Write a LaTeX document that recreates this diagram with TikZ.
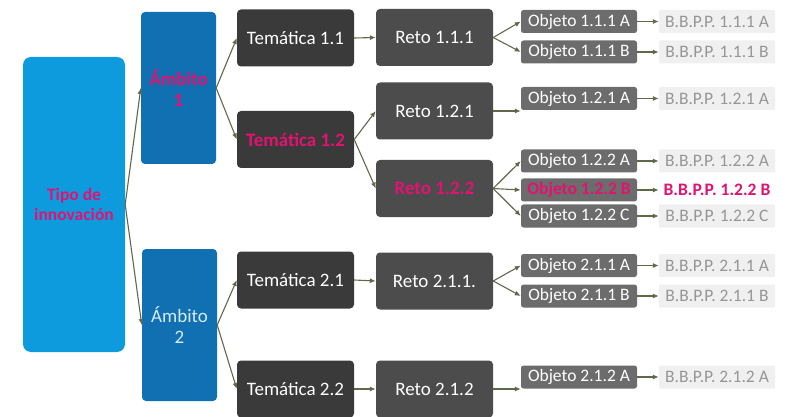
\documentclass[tikz,border=0pt]{standalone}
\usepackage{fontspec}
\setmainfont{Carlito}
\usetikzlibrary{arrows.meta}
\definecolor{tipoblue}{RGB}{14,155,222}
\definecolor{ambblue}{RGB}{16,112,178}
\definecolor{temgray}{RGB}{58,58,58}
\definecolor{retogray}{RGB}{76,76,76}
\definecolor{objgray}{RGB}{108,108,108}
\definecolor{bbppgray}{RGB}{240,240,240}
\definecolor{bbpptext}{RGB}{150,150,150}
\definecolor{hilite}{RGB}{226,18,114}
\definecolor{linkcol}{RGB}{96,104,74}
\begin{document}
\begin{tikzpicture}[x=1pt,y=-1pt,
  box/.style={rounded corners=4pt,align=center,inner sep=0pt,font=\fontsize{19}{21}\selectfont},
  tipo/.style={box,fill=tipoblue,minimum width=102pt,minimum height=295pt,rounded corners=8pt,font=\fontsize{17.5}{20}\selectfont},
  ambito/.style={box,fill=ambblue,minimum width=75pt,minimum height=152pt,text={rgb,255:red,215;green,235;blue,248}},
  tema/.style={box,fill=temgray,text=white,minimum width=117pt,minimum height=57pt},
  reto/.style={box,fill=retogray,text=white,minimum width=117pt,minimum height=57pt},
  objeto/.style={box,fill=objgray,text=white,minimum width=116pt,minimum height=23pt,rounded corners=2.5pt,font=\fontsize{17.5}{19}\selectfont},
  bbpp/.style={box,fill=bbppgray,text=bbpptext,minimum width=116pt,minimum height=23pt,rounded corners=1pt,font=\fontsize{17.5}{19}\selectfont},
  marked/.style={text=hilite,execute at begin node=\bfseries},
  link/.style={draw=linkcol,line width=1.1pt,-{Latex[length=6pt,width=5pt]}}]
  \useasboundingbox (0,0) rectangle (785,417);
  \node[tipo,marked] (tipo) at (74,204.5) {Tipo de\\innovación};
  \node[ambito,marked] (amb1) at (178.5,88) {Ámbito\\1};
  \node[ambito] (amb2) at (179.5,325) {Ámbito\\2};
  \node[tema] (tem11) at (295.5,38) {Temática 1.1};
  \node[tema,marked] (tem12) at (295.5,139.5) {Temática 1.2};
  \node[tema] (tem21) at (295.5,280) {Temática 2.1};
  \node[tema] (tem22) at (295.5,389) {Temática 2.2};
  \node[reto] (reto111) at (434.5,37.5) {Reto 1.1.1};
  \node[reto] (reto121) at (434.5,111) {Reto 1.2.1};
  \node[reto,marked] (reto122) at (434.5,188.5) {Reto 1.2.2};
  \node[reto] (reto211) at (434.5,281) {Reto 2.1.1.};
  \node[reto] (reto212) at (434.5,389) {Reto 2.1.2};
  \node[objeto] (o111a) at (579,21.5) {Objeto 1.1.1 A};
  \node[objeto] (o111b) at (579,52) {Objeto 1.1.1 B};
  \node[objeto] (o121a) at (579,98.5) {Objeto 1.2.1 A};
  \node[objeto] (o122a) at (579,161) {Objeto 1.2.2 A};
  \node[objeto,marked] (o122b) at (579,190) {Objeto 1.2.2 B};
  \node[objeto] (o122c) at (579,216) {Objeto 1.2.2 C};
  \node[objeto] (o211a) at (579,265.5) {Objeto 2.1.1 A};
  \node[objeto] (o211b) at (579,296) {Objeto 2.1.1 B};
  \node[objeto] (o212a) at (579,377) {Objeto 2.1.2 A};
  \node[bbpp] (b111a) at (717,21.5) {B.B.P.P. 1.1.1 A};
  \node[bbpp] (b111b) at (717,52) {B.B.P.P. 1.1.1 B};
  \node[bbpp] (b121a) at (717,98.5) {B.B.P.P. 1.2.1 A};
  \node[bbpp] (b122a) at (717,161) {B.B.P.P. 1.2.2 A};
  \node[bbpp,fill=white,marked] (b122b) at (717,190) {B.B.P.P. 1.2.2 B};
  \node[bbpp] (b122c) at (717,216) {B.B.P.P. 1.2.2 C};
  \node[bbpp] (b211a) at (717,265.5) {B.B.P.P. 2.1.1 A};
  \node[bbpp] (b211b) at (717,296) {B.B.P.P. 2.1.1 B};
  \node[bbpp] (b212a) at (717,377) {B.B.P.P. 2.1.2 A};
  \draw[link] (tipo.east) -- (amb1.west);
  \draw[link] (tipo.east) -- (amb2.west);
  \draw[link] (amb1.east) -- (tem11.west);
  \draw[link] (amb1.east) -- (tem12.west);
  \draw[link] (amb2.east) -- (tem21.west);
  \draw[link] (amb2.east) -- (tem22.west);
  \draw[link] (tem11.east) -- (reto111.west);
  \draw[link] (tem12.east) -- (reto121.west);
  \draw[link] (tem12.east) -- (reto122.west);
  \draw[link] (tem21.east) -- (reto211.west);
  \draw[link] (tem22.east) -- (reto212.west);
  \draw[link] (reto111.east) -- (o111a.west);
  \draw[link] (reto111.east) -- (o111b.west);
  \draw[link] (reto121.east) -- (reto121.east -| o121a.west);
  \draw[link] (reto122.east) -- (o122a.west);
  \draw[link] (reto122.east) -- (o122b.west);
  \draw[link] (reto122.east) -- (o122c.west);
  \draw[link] (reto211.east) -- (o211a.west);
  \draw[link] (reto211.east) -- (o211b.west);
  \draw[link] (reto212.east) -- (reto212.east -| o212a.west);
  \foreach \k in {111a,111b,121a,122a,122b,122c,211a,211b,212a}
    \draw[link] (o\k.east) -- (b\k.west);
\end{tikzpicture}
\end{document}
